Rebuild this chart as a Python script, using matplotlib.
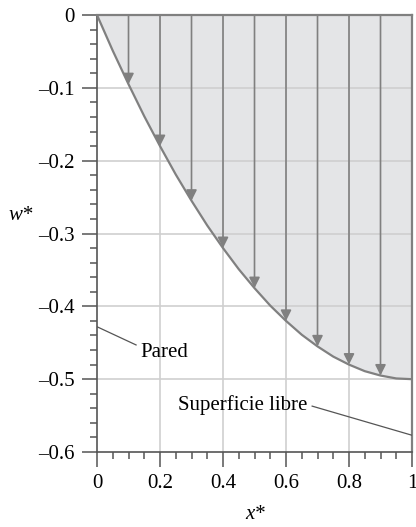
import matplotlib
matplotlib.use("Agg")
import matplotlib.pyplot as plt
from matplotlib.ticker import FixedLocator, MultipleLocator

plt.rcParams['font.family'] = ['Liberation Serif', 'DejaVu Serif']

# free surface profile w*(x*)
x_star = [0.0, 0.05, 0.1, 0.15, 0.2, 0.25, 0.3, 0.35, 0.4, 0.45, 0.5,
          0.55, 0.6, 0.65, 0.7, 0.75, 0.8, 0.85, 0.9, 0.95, 1.0]
w_star = [0.0, -0.049, -0.095, -0.139, -0.18, -0.219, -0.255, -0.289, -0.32, -0.349, -0.375,
          -0.399, -0.42, -0.439, -0.455, -0.469, -0.48, -0.489, -0.495, -0.499, -0.5]

# arrows from w*=0 down to the surface
arrow_x = [0.1, 0.2, 0.3, 0.4, 0.5, 0.6, 0.7, 0.8, 0.9]
arrow_w = [-0.095, -0.18, -0.255, -0.32, -0.375, -0.42, -0.455, -0.48, -0.495]

xticks = [0, 0.2, 0.4, 0.6, 0.8, 1.0]
xtick_labels = ['0', '0.2', '0.4', '0.6', '0.8', '1']
yticks = [0, -0.1, -0.2, -0.3, -0.4, -0.5, -0.6]
ytick_labels = ['0', '\u20130.1', '\u20130.2', '\u20130.3', '\u20130.4', '\u20130.5', '\u20130.6']

gray = '#808080'
dark = '#555555'

fig = plt.figure(figsize=(4.16, 5.27), dpi=100)
ax = fig.add_axes([0.2332, 0.1423, 0.7572, 0.8292])

ax.set_xlim(0, 1)
ax.set_ylim(-0.6, 0)

# grid
for gx in xticks[1:-1]:
    ax.axvline(gx, color='#cfcfcf', lw=1.2, zorder=1)
for gy in yticks[1:-1]:
    ax.axhline(gy, color='#cfcfcf', lw=1.2, zorder=1)

ax.fill_between(x_star, w_star, 0, color='#e4e5e7', zorder=0.5, lw=0)
ax.plot(x_star, w_star, color=gray, lw=1.6, zorder=3)

for xa, wa in zip(arrow_x, arrow_w):
    ax.annotate('', xy=(xa, wa), xytext=(xa, 0),
                arrowprops=dict(arrowstyle='-|>', color=gray, lw=1.2,
                                mutation_scale=16, shrinkA=0, shrinkB=0),
                zorder=4)

# labels with leader lines
ax.plot([0.0, 0.124], [-0.428, -0.453], color=dark, lw=0.9, zorder=3)
ax.text(0.137, -0.463, 'Pared', fontsize=15, va='center', ha='left')
ax.plot([0.683, 1.0], [-0.537, -0.577], color=dark, lw=0.9, zorder=3)
ax.text(0.667, -0.536, 'Superficie libre', fontsize=15, va='center', ha='right')

for side in ['top', 'right']:
    ax.spines[side].set_color(gray)
    ax.spines[side].set_linewidth(1.6)
for side in ['left', 'bottom']:
    ax.spines[side].set_color(dark)
    ax.spines[side].set_linewidth(1.2)

ax.xaxis.set_major_locator(FixedLocator(xticks))
ax.set_xticklabels(xtick_labels)
ax.yaxis.set_major_locator(FixedLocator(yticks))
ax.set_yticklabels(ytick_labels)
ax.xaxis.set_minor_locator(MultipleLocator(0.05))
ax.yaxis.set_minor_locator(MultipleLocator(0.02))
ax.tick_params(which='major', direction='out', length=11, width=1.1, color=dark,
               labelsize=15, pad=5)
ax.tick_params(which='minor', direction='out', length=5, width=1.1, color=dark)

ax.set_xlabel('x*', fontsize=15, style='italic', va='center')
ax.xaxis.set_label_coords(0.502, -0.142)
ax.set_ylabel('w*', fontsize=15, style='italic', rotation=0, va='center', ha='center')
ax.yaxis.set_label_coords(-0.241, 0.542)

fig.savefig('out.png', dpi=100)
